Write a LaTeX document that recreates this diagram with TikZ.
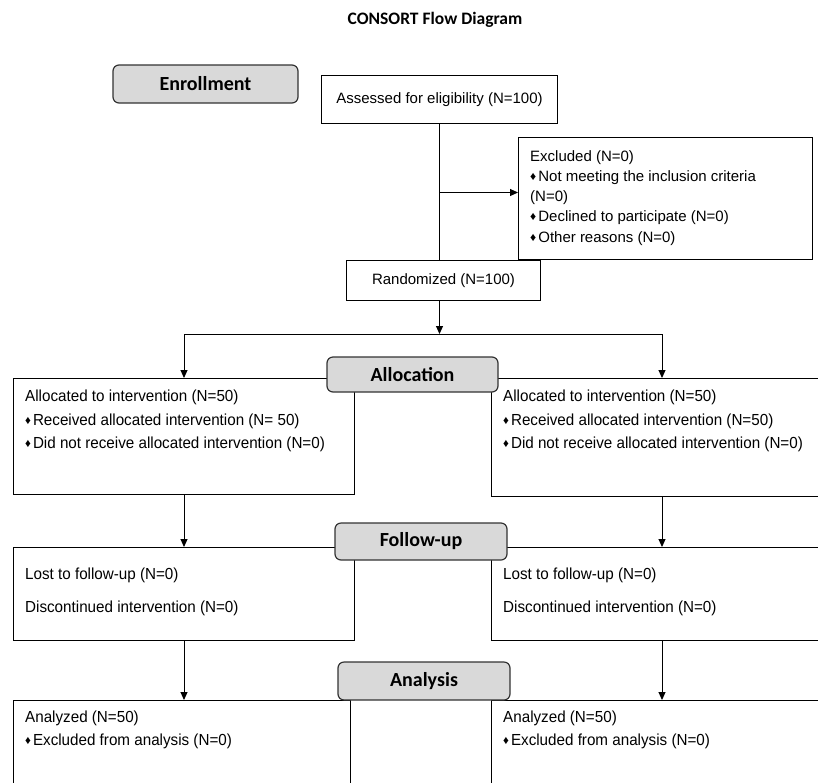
\documentclass[tikz,border=0pt]{standalone}
\usepackage{fontspec}
\setmainfont{Liberation Sans}
\newfontfamily\headfont{Carlito}
\newfontfamily\narrowfont[FakeStretch=0.95]{Liberation Sans}
\usetikzlibrary{positioning,calc,arrows.meta}

\tikzset{
  box/.style={draw, line width=1pt, inner sep=0pt, anchor=north west},
  stage/.style={draw=black!80, fill=gray!30, rounded corners=6pt, line width=1.2pt, inner sep=0pt, font=\headfont\bfseries\fontsize{20}{24}\selectfont},
  txt/.style={inner sep=0pt, anchor=north west, align=left},
  arr/.style={-{Triangle[length=8pt,width=7pt]}, line width=1pt},
  link/.style={line width=1pt},
}
\newcommand{\dia}{\raisebox{1pt}{\fontsize{12}{12}\selectfont ♦}\hspace{2pt}}

\begin{document}
\begin{tikzpicture}[x=1pt,y=1pt]
    \useasboundingbox (0,0) rectangle (818,-782);
    \clip (0,0) rectangle (818,-782);

    % Title
    \node [font=\headfont\bfseries\fontsize{17.5}{20}\selectfont] (title) at (435,-20) {CONSORT Flow Diagram};

    % Enrollment
    \node [box, minimum width=236, minimum height=48, font=\fontsize{15}{18}\selectfont] (assess) at (321,-75) {Assessed for eligibility (N=100)};
    \node [box, minimum width=294, minimum height=122] (excl) at (518,-137) {};
    \node [txt, font=\fontsize{15}{20.3}\selectfont] (excltxt) at ([shift={(12,-13)}]excl.north west) {Excluded (N=0)\\ \dia Not meeting the inclusion criteria\\ (N=0)\\ \dia Declined to participate (N=0)\\ \dia Other reasons (N=0)};
    \node [box, minimum width=194, minimum height=40, font=\fontsize{15}{18}\selectfont] (rand) at (346,-260) {Randomized (N=100)};

    % Allocation
    \node [box, minimum width=341, minimum height=116] (alloc1) at (13,-378) {};
    \node [txt, font=\narrowfont\fontsize{16}{23.5}\selectfont] (alloc1txt) at ([shift={(12,-12)}]alloc1.north west) {Allocated to intervention (N=50)\\ \dia Received allocated intervention (N= 50)\\ \dia Did not receive allocated intervention (N=0)};
    \node [box, minimum width=341, minimum height=118] (alloc2) at (491,-378) {};
    \node [txt, font=\narrowfont\fontsize{16}{23.5}\selectfont] (alloc2txt) at ([shift={(12,-12)}]alloc2.north west) {Allocated to intervention (N=50)\\ \dia Received allocated intervention (N=50)\\ \dia Did not receive allocated intervention (N=0)};

    % Follow-up
    \node [box, minimum width=341, minimum height=93] (fup1) at (13,-547) {};
    \node [txt, font=\narrowfont\fontsize{16}{33}\selectfont] (fup1txt) at ([shift={(12,-21)}]fup1.north west) {Lost to follow-up (N=0)\\ Discontinued intervention (N=0)};
    \node [box, minimum width=341, minimum height=93] (fup2) at (491,-547) {};
    \node [txt, font=\narrowfont\fontsize{16}{33}\selectfont] (fup2txt) at ([shift={(12,-21)}]fup2.north west) {Lost to follow-up (N=0)\\ Discontinued intervention (N=0)};

    % Analysis
    \node [box, minimum width=337, minimum height=100] (ana1) at (13,-700) {};
    \node [txt, font=\narrowfont\fontsize{16}{22.5}\selectfont] (ana1txt) at ([shift={(12,-11)}]ana1.north west) {Analyzed (N=50)\\ \dia Excluded from analysis (N=0)};
    \node [box, minimum width=341, minimum height=100] (ana2) at (491,-700) {};
    \node [txt, font=\narrowfont\fontsize{16}{22.5}\selectfont] (ana2txt) at ([shift={(12,-11)}]ana2.north west) {Analyzed (N=50)\\ \dia Excluded from analysis (N=0)};

    % Stage labels
    \node [stage, minimum width=185, minimum height=38] (enroll) at (205.5,-84) {Enrollment};
    \node [stage, minimum width=171, minimum height=35] (allocation) at (412.5,-374.5) {Allocation};
    \node [stage, minimum width=172, minimum height=37] (followup) at (421,-541.5) {Follow-up};
    \node [stage, minimum width=172, minimum height=38] (analysis) at (424,-681) {Analysis};

    % Connectors
    \draw [link] (assess.south) -- (assess.south |- rand.north);
    \draw [arr] (assess.south |- excl.west) ++(0,6) -- ([yshift=6]excl.west);
    \draw [arr] (rand.south -| assess.south) -- ++(0,-33) coordinate (fork);
    \draw [arr] (fork) -| (alloc1.north);
    \draw [arr] (fork) -| (alloc2.north);
    \draw [arr] (alloc1.south) -- (fup1.north);
    \draw [arr] (alloc2.south) -- (fup2.north);
    \draw [arr] (fup1.south) -- (fup1.south |- ana1.north);
    \draw [arr] (fup2.south) -- (ana2.north);
\end{tikzpicture}
\end{document}
